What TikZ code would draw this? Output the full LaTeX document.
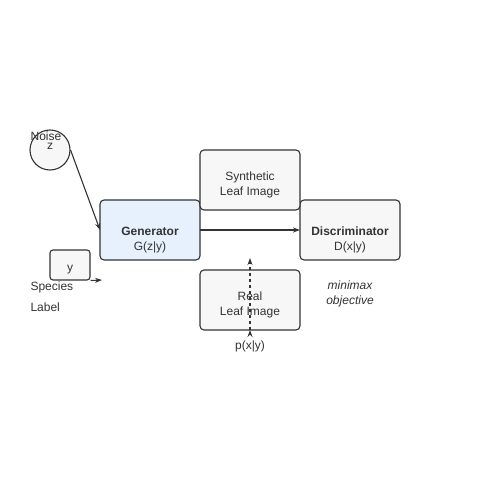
\documentclass[tikz,border=0pt]{standalone}
\usepackage{fontspec}
\setmainfont{Liberation Sans}
\usetikzlibrary{positioning}
\usetikzlibrary{arrows.meta}

\definecolor{linegray}{HTML}{333333}
\definecolor{boxgray}{HTML}{F7F7F7}
\definecolor{genblue}{HTML}{E6F1FD}

\begin{document}
\begin{tikzpicture}[x=1pt,y=-1pt,>={Stealth[length=7pt,width=5pt]},
	line width=1.1pt,draw=linegray,
	every node/.style={font=\fontsize{12}{15}\selectfont,text=linegray,align=center},
	main box/.style={rectangle,rounded corners=4pt,draw=linegray,fill=boxgray,
		minimum width=100pt,minimum height=60pt,inner sep=0pt,outer sep=0pt,text height=34pt},
	small box/.style={rectangle,rounded corners=3pt,draw=linegray,fill=boxgray,
		minimum width=40pt,minimum height=30pt,inner sep=0pt,text height=16pt}]
	
	\useasboundingbox (0,0) rectangle (500,500);
	
	\node[main box,fill=genblue,text height=44pt] (gen) at (150,230) {\textbf{Generator}\\G(z|y)};
	\node[main box,text height=44pt] (disc) [right=100pt of gen] {\textbf{Discriminator}\\D(x|y)};
	\node[main box] (synth) at (250,180) {Synthetic\\Leaf Image};
	\node[main box] (real) at (250,300) {Real\\Leaf Image};
	\node[circle,draw=linegray,fill=boxgray,minimum size=40pt,inner sep=0pt] (noise) at (50,150) {};
	\node (z) at (50,146) {z};
	\node (noiselbl) at (46,136) {Noise};
	\node[small box] (y) at (70,265) {y};
	\node[anchor=west,inner sep=0pt] (species) at (30,287) {Species};
	\node[anchor=west,inner sep=0pt] (label) at (30,307) {Label};
	\node (minimax) at (350,294) {\itshape minimax\\\itshape objective};
	\node (pxy) at (250,346) {p(x|y)};
	\coordinate (yend) at (102,280);
	\coordinate (realtop) at (250,258);
	
	\path[->,draw=linegray]
	(noise.east) edge (gen.west)
	(y.south east) edge (yend)
	(gen) edge (disc)
	(real.south) edge [dashed] (realtop);
	\end{tikzpicture}
\end{document}
